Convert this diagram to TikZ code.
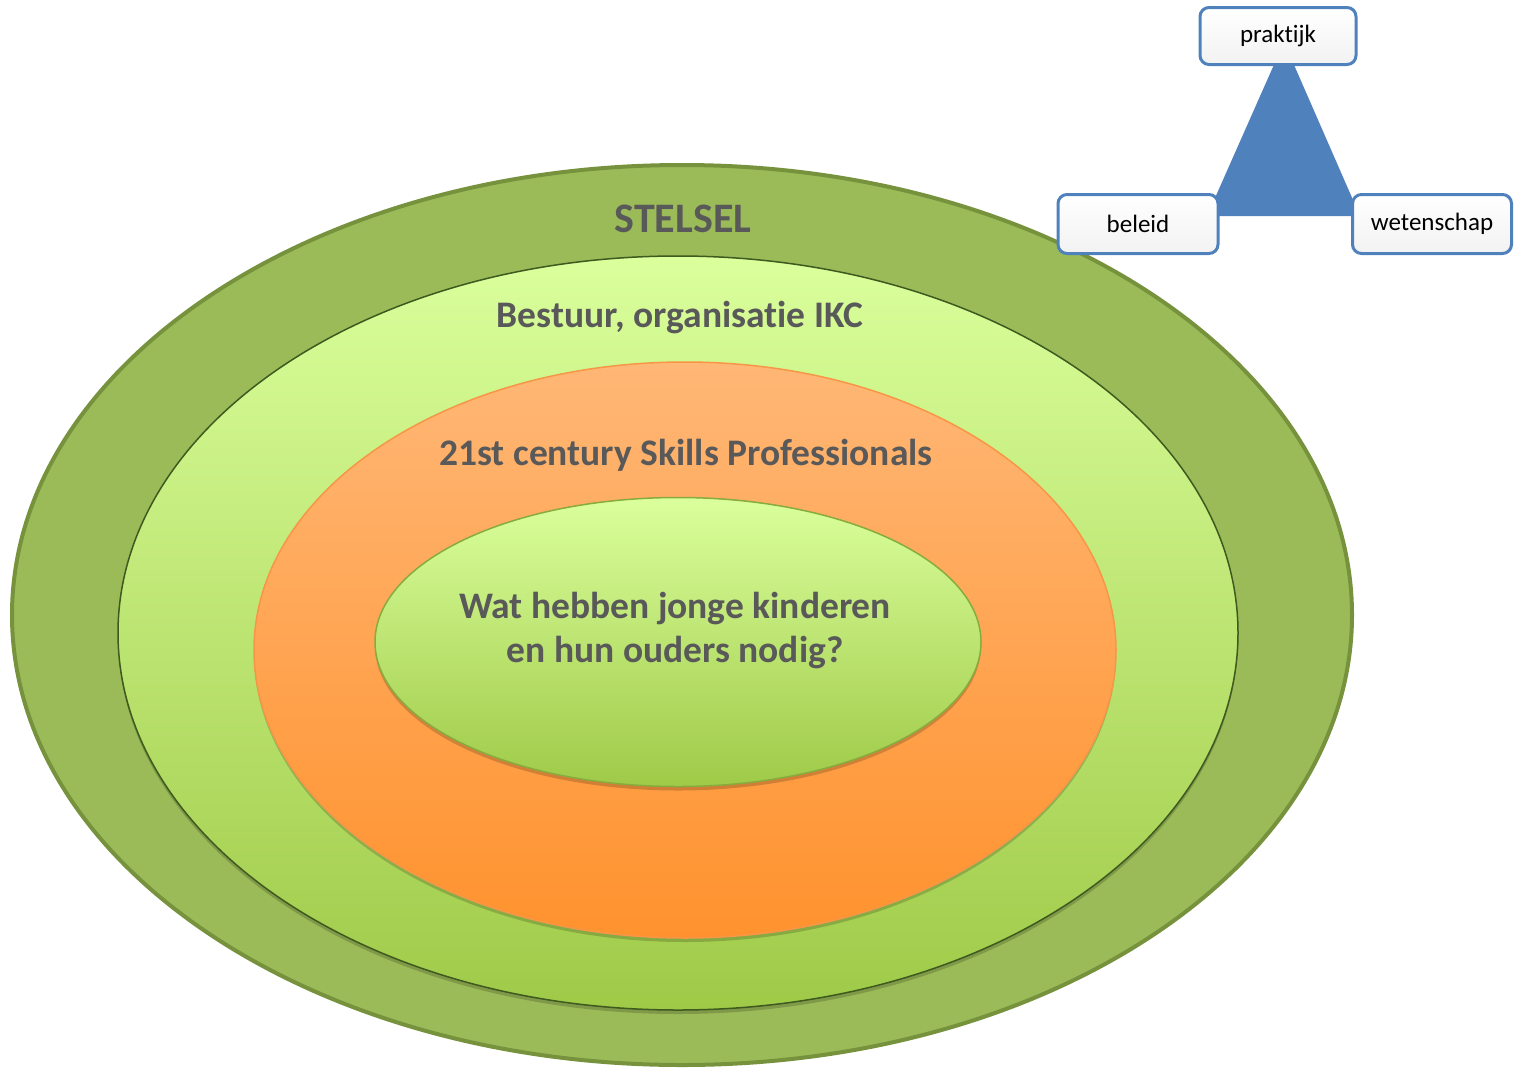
\documentclass[tikz,border=0pt]{standalone}
\usepackage{fontspec}
\setmainfont{Carlito}[Ligatures={NoCommon}]
\usetikzlibrary{shapes.geometric,shadows}
\definecolor{outerG}{HTML}{9BBB59}
\definecolor{outerS}{HTML}{76923C}
\definecolor{lgTop}{HTML}{DAFF9C}
\definecolor{lgBot}{HTML}{9FCA48}
\definecolor{orTop}{HTML}{FFB776}
\definecolor{orBot}{HTML}{FF922E}
\definecolor{orS}{HTML}{F79646}
\definecolor{txtG}{HTML}{595959}
\definecolor{blueT}{HTML}{4F81BD}
\definecolor{ringS}{HTML}{3E5A1E}
\tikzset{
  ring/.style={ellipse, inner sep=0pt},
  shadowed/.style={drop shadow={shadow xshift=0pt, shadow yshift=-4pt, opacity=0.18, fill=black}},
  bigtext/.style={font=\bfseries, text=txtG, align=center},
  cornerbox/.style={draw=blueT, line width=3pt, rounded corners=9pt, top color=white, bottom color=white!95!black, minimum width=156pt, minimum height=57pt, inner sep=0pt, font=\fontsize{25}{30}\selectfont, text=black}
}
\begin{document}
\begin{tikzpicture}[x=1pt,y=-1pt]
\useasboundingbox (0,0) rectangle (1517,1071);
% rings
\node[ring, fill=outerG, draw=outerS, line width=4pt, minimum width=1340pt, minimum height=900pt] (stelsel) at (682,615) {};
\node[ring, shadowed, top color=lgTop, bottom color=lgBot, draw=ringS, line width=1.5pt, minimum width=1120pt, minimum height=754pt] (bestuur) at (678,633) {};
\node[ring, shadowed, top color=orTop, bottom color=orBot, draw=orS, line width=1.5pt, minimum width=862pt, minimum height=576pt] (skills) at (685,650) {};
\node[ring, shadowed, top color=lgTop, bottom color=lgBot, draw=lgBot!85!black, line width=1.5pt, minimum width=606pt, minimum height=289pt] (kind) at (678,642) {};
% labels
\node[bigtext, font=\bfseries\fontsize{42}{48}\selectfont] (tStelsel) at (683,219) {STELSEL};
\node[bigtext, font=\bfseries\fontsize{37.5}{44}\selectfont] (tBestuur) at (680,318) {Bestuur, organisatie IKC};
\node[bigtext, font=\bfseries\fontsize{37.5}{44}\selectfont] (tSkills) at (686,455) {21st century Skills Professionals};
\node[bigtext, font=\bfseries\fontsize{37.5}{44}\selectfont] (tKind) at (675,631) {Wat hebben jonge kinderen\\en hun ouders nodig?};
% triangle
\coordinate (apex) at (1284,42);
\coordinate (bl) at (1207,216);
\coordinate (br) at (1360,216);
\fill[blueT] (apex) -- (br) -- (bl) -- cycle;
% boxes
\node[cornerbox] (praktijk) at (1278,36) {praktijk};
\node[cornerbox, minimum width=160pt, minimum height=59pt] (beleid) at (1138,224) {beleid};
\node[cornerbox, minimum width=159pt, minimum height=59pt] (wetenschap) at (1432,224) {wetenschap};
\end{tikzpicture}
\end{document}
